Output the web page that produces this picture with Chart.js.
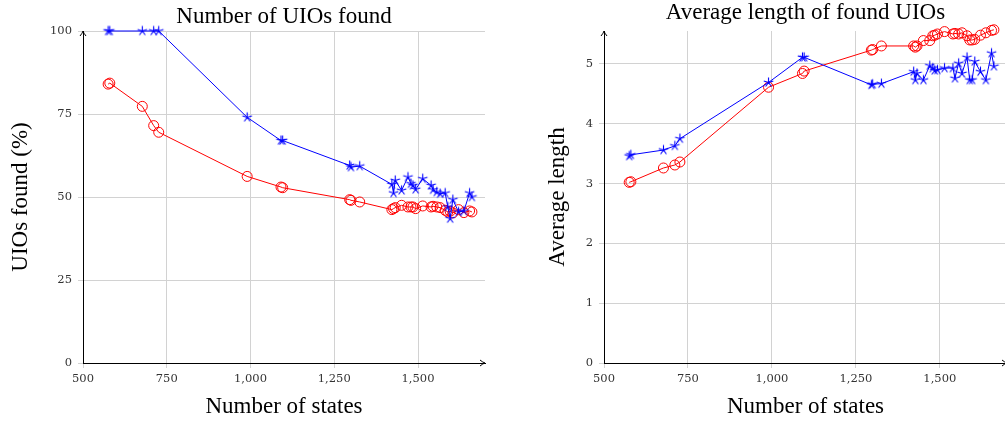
<!DOCTYPE html>
<html>
<head>
<meta charset="utf-8">
<script src="https://cdn.jsdelivr.net/npm/chart.js@4"></script>
<style>
  html, body { margin: 0; padding: 0; background: #fff; overflow: hidden; }
  body { width: 1005px; height: 421px; position: relative; }
  #left { position: absolute; left: 0; top: 0; }
  #right { position: absolute; left: 500px; top: 0; }
</style>
</head>
<body>
<canvas id="left" width="500" height="421"></canvas>
<canvas id="right" width="520" height="421"></canvas>
<script>
// ---- Data ----
const states = [575, 580, 677, 711, 726, 990, 1091, 1096, 1296, 1300, 1326,
  1422, 1427, 1432, 1451, 1470, 1479, 1485, 1493, 1514, 1539, 1545, 1556, 1566,
  1581, 1589, 1596, 1604, 1621, 1637, 1654, 1661];

const foundStar = [100, 100, 100, 100, 100, 74, 67, 67, 59.5, 59, 59.3,
  53.8, 51.2, 55, 52, 56, 54, 53.5, 52.3, 55.5, 53.5, 52.2, 51.5, 51,
  51.2, 47, 43.5, 49.2, 45.5, 45.8, 51.2, 50];
const foundCircle = [84, 84.3, 77.3, 71.5, 69.5, 56.2, 53, 52.8, 49.2, 49, 48.5,
  46.2, 46.5, 46.8, 47.5, 47, 47, 47, 46.5, 47.3, 47, 47.2, 47, 46.8,
  46, 45.5, 45.7, 45.2, 46.2, 45.3, 45.8, 45.5];

const lengthStar = [3.46, 3.48, 3.56, 3.63, 3.75, 4.69, 5.11, 5.11, 4.65, 4.66, 4.67,
  4.87, 4.73, 4.84, 4.73, 4.97, 4.93, 4.89, 4.9, 4.93, 4.93, 4.76, 5.01, 4.84,
  5.11, 4.73, 4.73, 5.04, 4.87, 4.73, 5.18, 4.96];
const lengthCircle = [3.02, 3.03, 3.26, 3.31, 3.36, 4.61, 4.84, 4.88, 5.23, 5.24, 5.3,
  5.3, 5.28, 5.3, 5.39, 5.39, 5.47, 5.48, 5.5, 5.54, 5.5, 5.51, 5.5, 5.52,
  5.47, 5.4, 5.4, 5.41, 5.48, 5.52, 5.56, 5.57];

const xTicks = [500, 750, 1000, 1250, 1500];
const foundTicks = [0, 25, 50, 75, 100];
const lengthTicks = [0, 1, 2, 3, 4, 5];

// ---- helpers ----
const serif = "'Liberation Serif', 'DejaVu Serif', serif";
const tickFont = { family: "'DejaVu Serif', serif", size: 11.5 };

function starMark(color, r) {
  const c = document.createElement('canvas');
  const s = Math.ceil(2 * r + 3);
  c.width = c.height = s;
  const g = c.getContext('2d');
  g.strokeStyle = color;
  g.lineWidth = 1.1;
  g.beginPath();
  for (let k = 0; k < 5; k++) {
    const a = -Math.PI / 2 + k * 2 * Math.PI / 5;
    g.moveTo(s / 2, s / 2);
    g.lineTo(s / 2 + r * Math.cos(a), s / 2 + r * Math.sin(a));
  }
  g.stroke();
  return c;
}

const arrows = {
  id: 'arrows',
  afterDraw(chart) {
    const { ctx, scales: { x, y } } = chart;
    ctx.save();
    ctx.strokeStyle = '#000';
    ctx.lineWidth = 1;
    ctx.beginPath();
    // x axis arrow
    ctx.moveTo(x.right - 5, y.bottom - 3);
    ctx.quadraticCurveTo(x.right - 2, y.bottom - 0.5, x.right, y.bottom);
    ctx.quadraticCurveTo(x.right - 2, y.bottom + 0.5, x.right - 5, y.bottom + 3);
    // y axis arrow
    ctx.moveTo(x.left - 3, y.top + 5);
    ctx.quadraticCurveTo(x.left - 0.5, y.top + 2, x.left, y.top);
    ctx.quadraticCurveTo(x.left + 0.5, y.top + 2, x.left + 3, y.top + 5);
    ctx.stroke();
    ctx.restore();
  }
};

function makeChart(id, cfg) {
  const pts = a => states.map((s, i) => ({ x: s, y: a[i] }));
  return new Chart(document.getElementById(id), {
    type: 'line',
    data: {
      datasets: [{
        data: pts(cfg.star),
        borderColor: '#0000ff',
        borderWidth: 1,
        pointStyle: starMark('#0000ff', 5),
        pointRadius: 5,
        tension: 0,
        clip: false
      }, {
        data: pts(cfg.circle),
        borderColor: '#ff0000',
        borderWidth: 1,
        pointStyle: 'circle',
        pointRadius: 5,
        pointBorderWidth: 1,
        pointBorderColor: '#ff0000',
        pointBackgroundColor: 'rgba(0,0,0,0)',
        tension: 0,
        clip: false
      }]
    },
    options: {
      responsive: false,
      animation: false,
      events: [],
      layout: { padding: cfg.padding },
      plugins: {
        legend: { display: false },
        tooltip: { enabled: false },
        title: {
          display: true,
          text: cfg.title,
          fullSize: false,
          color: '#000',
          font: { family: serif, size: 23, weight: 'normal', lineHeight: 1 },
          padding: cfg.titlePad
        }
      },
      scales: {
        x: {
          type: 'linear',
          min: 500,
          max: 1700,
          afterFit: s => { s.height = 58; },
          afterBuildTicks: s => { s.ticks = xTicks.map(v => ({ value: v })); },
          grid: { color: '#d2d2d2', tickLength: 5 },
          border: { color: '#000', width: 1 },
          ticks: {
            color: '#333', font: tickFont, padding: 4, maxRotation: 0,
            callback: v => v.toLocaleString('en-US')
          },
          title: {
            display: true,
            text: 'Number of states',
            color: '#000',
            font: { family: serif, size: 23, lineHeight: 1 },
            padding: { top: 0, bottom: 2.5 }
          }
        },
        y: {
          min: 0,
          max: cfg.ymax,
          afterFit: s => { s.width = cfg.yWidth; },
          afterBuildTicks: s => { s.ticks = cfg.yTicks.map(v => ({ value: v })); },
          grid: { color: '#d2d2d2', tickLength: 5 },
          border: { color: '#000', width: 1 },
          ticks: { color: '#333', font: tickFont, padding: 6 },
          title: {
            display: true,
            text: cfg.ytitle,
            color: '#000',
            font: { family: serif, size: 23, lineHeight: 1 },
            padding: { top: cfg.yTitlePad, bottom: 0 }
          }
        }
      }
    },
    plugins: [arrows]
  });
}

makeChart('left', {
  star: foundStar, circle: foundCircle,
  title: 'Number of UIOs found',
  ytitle: 'UIOs found (%)',
  ymax: 100, yTicks: foundTicks,
  yWidth: 83, yTitlePad: 9,
  padding: { left: 0, right: 15, top: 0, bottom: 0 },
  titlePad: { top: 5, bottom: 3 }
});

makeChart('right', {
  star: lengthStar, circle: lengthCircle,
  title: 'Average length of found UIOs',
  ytitle: 'Average length',
  ymax: 5.55, yTicks: lengthTicks,
  yWidth: 68, yTitlePad: 10.5,
  padding: { left: 36, right: 13, top: 0, bottom: 0 },
  titlePad: { top: 1, bottom: 7 }
});
</script>
</body>
</html>
